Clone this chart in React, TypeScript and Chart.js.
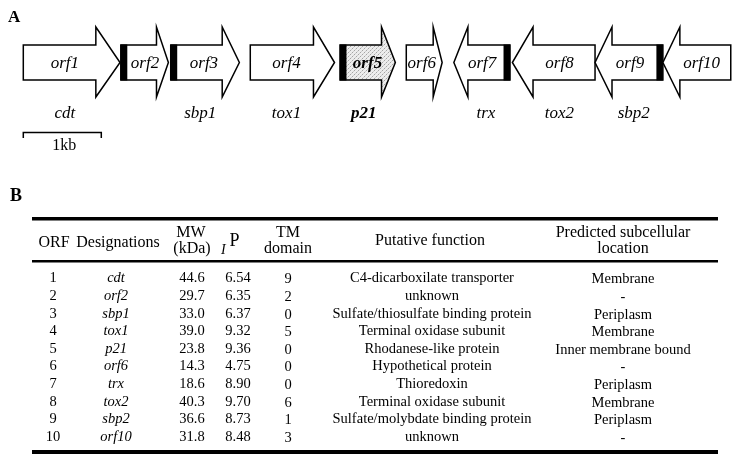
import React, { useEffect, useRef } from "react";
import { Chart, registerables } from "chart.js";

Chart.register(...registerables);

// ---- Gene map data (kb, origin at start of orf1) ----
const ORF_IDS = ["1", "2", "3", "4", "5", "6", "7", "8", "9", "10"];
const ORF_NAMES = ["orf1", "orf2", "orf3", "orf4", "orf5", "orf6", "orf7", "orf8", "orf9", "orf10"];
const GENE_START_KB = [0.0, 1.25, 1.89, 2.91, 4.06, 4.91, 5.52, 6.27, 7.33, 8.2];
const GENE_END_KB = [1.24, 1.86, 2.77, 3.99, 4.77, 5.37, 6.24, 7.33, 8.2, 9.07];
const GENE_STRAND = [1, 1, 1, 1, 1, 1, -1, -1, -1, -1];
const GENE_HAS_BOX = [false, true, true, false, true, false, true, false, true, false];
const HIGHLIGHT_ORF = "orf5";
const SCALE_BAR_KB = [0, 1];
const SCALE_BAR_LABEL = "1kb";

// ---- Table data ----
const DESIGNATIONS = ["cdt", "orf2", "sbp1", "tox1", "p21", "orf6", "trx", "tox2", "sbp2", "orf10"];
const MW_KDA = ["44.6", "29.7", "33.0", "39.0", "23.8", "14.3", "18.6", "40.3", "36.6", "31.8"];
const PI_VALUES = ["6.54", "6.35", "6.37", "9.32", "9.36", "4.75", "8.90", "9.70", "8.73", "8.48"];
const TM_DOMAINS = ["9", "2", "0", "5", "0", "0", "0", "6", "1", "3"];
const FUNCTIONS = [
  "C4-dicarboxilate transporter",
  "unknown",
  "Sulfate/thiosulfate binding protein",
  "Terminal oxidase subunit",
  "Rhodanese-like protein",
  "Hypothetical protein",
  "Thioredoxin",
  "Terminal oxidase subunit",
  "Sulfate/molybdate binding protein",
  "unknown",
];
const LOCATIONS = ["Membrane", "-", "Periplasm", "Membrane", "Inner membrane bound", "-", "Periplasm", "Membrane", "Periplasm", "-"];

// ---- layout / style constants ----
const W = 738;
const H = 460;
const PX_PER_KB = 78;
const ORIGIN_PX = 23.3;
const KB_MIN = -ORIGIN_PX / PX_PER_KB;
const KB_MAX = (W - ORIGIN_PX) / PX_PER_KB;
const SERIF = '"Liberation Serif", "Times New Roman", serif';

const BODY_TOP = 45;
const BODY_BOT = 80;
const HEAD_TOP = 27;
const HEAD_BOT = 97;
const ROW_FIRST = 278.5;
const ROW_LAST = 437;
const BOX_W = 6.5;

const COL = {
  orf: 53,
  des: 116,
  mw: 192,
  pi: 238,
  tm: 288,
  fn: 432,
  loc: 623,
};

function makePattern(ctx: CanvasRenderingContext2D) {
  const c = document.createElement("canvas");
  c.width = 4;
  c.height = 4;
  const p = c.getContext("2d")!;
  p.fillStyle = "#ededed";
  p.fillRect(0, 0, 4, 4);
  p.fillStyle = "#a6a6a6";
  p.fillRect(0, 0, 1, 1);
  p.fillRect(2, 2, 1, 1);
  p.fillStyle = "#cfcfcf";
  p.fillRect(1, 3, 1, 1);
  p.fillRect(3, 1, 1, 1);
  return ctx.createPattern(c, "repeat");
}

const mapPlugin = {
  id: "geneMap",
  afterDraw(chart: any) {
    const ctx: CanvasRenderingContext2D = chart.ctx;
    const x = chart.scales.x;
    ctx.save();
    // panel letters
    ctx.fillStyle = "#000";
    ctx.textBaseline = "alphabetic";
    ctx.textAlign = "left";
    ctx.font = `bold 17px ${SERIF}`;
    ctx.fillText("A", 8, 21.5);
    ctx.font = `bold 18px ${SERIF}`;
    ctx.fillText("B", 10, 200.5);

    const midY = (BODY_TOP + BODY_BOT) / 2;
    const pattern = makePattern(ctx);

    for (let i = 0; i < ORF_NAMES.length; i++) {
      const s = x.getPixelForValue(GENE_START_KB[i]);
      const e = x.getPixelForValue(GENE_END_KB[i]);
      const len = e - s;
      const head = len * 0.25;
      const fwd = GENE_STRAND[i] > 0;
      const tail = fwd ? s : e;
      const tip = fwd ? e : s;
      const dir = fwd ? 1 : -1;
      const base = tip - dir * head;

      ctx.beginPath();
      ctx.moveTo(tail, BODY_TOP);
      ctx.lineTo(base, BODY_TOP);
      ctx.lineTo(base, HEAD_TOP);
      ctx.lineTo(tip, midY);
      ctx.lineTo(base, HEAD_BOT);
      ctx.lineTo(base, BODY_BOT);
      ctx.lineTo(tail, BODY_BOT);
      ctx.closePath();
      const hl = ORF_NAMES[i] === HIGHLIGHT_ORF;
      ctx.fillStyle = hl && pattern ? pattern : "#fff";
      ctx.fill();
      ctx.lineWidth = 1.5;
      ctx.strokeStyle = "#000";
      ctx.lineJoin = "miter";
      ctx.stroke();

      const boxOff = GENE_HAS_BOX[i] ? BOX_W : 0;
      if (GENE_HAS_BOX[i]) {
        ctx.fillStyle = "#000";
        const bx = fwd ? tail : tail - BOX_W;
        ctx.fillRect(bx, BODY_TOP - 0.5, BOX_W, BODY_BOT - BODY_TOP + 1);
      }

      const innerTail = tail + dir * boxOff;
      const labelX = innerTail + dir * (len - boxOff) * 0.43;
      ctx.fillStyle = "#000";
      ctx.textAlign = "center";
      ctx.textBaseline = "middle";
      ctx.font = `${hl ? "bold " : ""}italic 17px ${SERIF}`;
      ctx.fillText(ORF_NAMES[i], labelX, midY + 1);

      if (DESIGNATIONS[i] !== ORF_NAMES[i]) {
        const nameX = tail + dir * len * 0.43;
        ctx.font = `${hl ? "bold " : ""}italic 17px ${SERIF}`;
        ctx.fillText(DESIGNATIONS[i], nameX, 114);
      }
    }

    // scale bar
    const b0 = x.getPixelForValue(SCALE_BAR_KB[0]);
    const b1 = x.getPixelForValue(SCALE_BAR_KB[1]);
    ctx.beginPath();
    ctx.lineWidth = 1.5;
    ctx.moveTo(b0, 138);
    ctx.lineTo(b0, 132.5);
    ctx.lineTo(b1, 132.5);
    ctx.lineTo(b1, 138);
    ctx.stroke();
    ctx.font = `16px ${SERIF}`;
    ctx.textAlign = "center";
    ctx.textBaseline = "middle";
    ctx.fillText(SCALE_BAR_LABEL, (b0 + b1) / 2 + 2, 146);
    ctx.restore();
  },
};

const tablePlugin = {
  id: "geneTable",
  afterDraw(chart: any) {
    const ctx: CanvasRenderingContext2D = chart.ctx;
    const y = chart.scales.y;
    ctx.save();
    ctx.fillStyle = "#000";
    const L = 32;
    const R = 718;
    ctx.fillRect(L, 217, R - L, 3.5);
    ctx.fillRect(L, 260, R - L, 2.5);
    ctx.fillRect(L, 450, R - L, 4);

    ctx.textAlign = "center";
    ctx.textBaseline = "middle";
    ctx.font = `16px ${SERIF}`;
    ctx.fillText("ORF", COL.orf + 1, 243);
    ctx.fillText("Designations", COL.des + 2, 243);
    ctx.fillText("MW", COL.mw - 1, 232.5);
    ctx.fillText("(kDa)", COL.mw, 249);
    ctx.fillText("TM", COL.tm, 232.5);
    ctx.fillText("domain", COL.tm, 249);
    ctx.fillText("Putative function", COL.fn - 2, 241);
    ctx.fillText("Predicted subcellular", COL.loc, 232.5);
    ctx.fillText("location", COL.loc, 249);
    // pI header
    ctx.font = `italic 14px ${SERIF}`;
    ctx.textAlign = "left";
    ctx.textBaseline = "alphabetic";
    ctx.fillText("I", 221, 254);
    ctx.font = `18px ${SERIF}`;
    ctx.fillText("P", 229.5, 246);

    ctx.textAlign = "center";
    ctx.textBaseline = "middle";
    for (let i = 0; i < ORF_IDS.length; i++) {
      const ry = y.getPixelForValue(i);
      ctx.font = `14.5px ${SERIF}`;
      ctx.fillText(ORF_IDS[i], COL.orf, ry);
      ctx.fillText(MW_KDA[i], COL.mw, ry);
      ctx.fillText(PI_VALUES[i], COL.pi, ry);
      ctx.fillText(TM_DOMAINS[i], COL.tm, ry + 1);
      ctx.fillText(FUNCTIONS[i], COL.fn, ry);
      ctx.fillText(LOCATIONS[i], COL.loc, ry + 1);
      ctx.font = `italic 14.5px ${SERIF}`;
      ctx.fillText(DESIGNATIONS[i], COL.des, ry);
    }
    ctx.restore();
  },
};

export default function App() {
  const ref = useRef<HTMLCanvasElement | null>(null);
  useEffect(() => {
    if (!ref.current) return;
    const chart = new Chart(ref.current, {
      type: "scatter",
      data: { labels: ORF_IDS, datasets: [] },
      options: {
        animation: false,
        responsive: false,
        maintainAspectRatio: false,
        events: [],
        layout: { padding: { left: 0, right: 0, top: ROW_FIRST, bottom: H - ROW_LAST } },
        plugins: { legend: { display: false }, tooltip: { enabled: false } },
        scales: {
          x: { type: "linear", display: false, min: KB_MIN, max: KB_MAX },
          y: { type: "category", labels: ORF_IDS, display: false, offset: false },
        },
      },
      plugins: [mapPlugin, tablePlugin],
    } as any);
    return () => chart.destroy();
  }, []);
  return (
    <div style={{ position: "absolute", left: 0, top: 0, width: W, height: H, background: "#fff" }}>
      <canvas ref={ref} width={W} height={H} style={{ width: W, height: H, display: "block" }} />
    </div>
  );
}
